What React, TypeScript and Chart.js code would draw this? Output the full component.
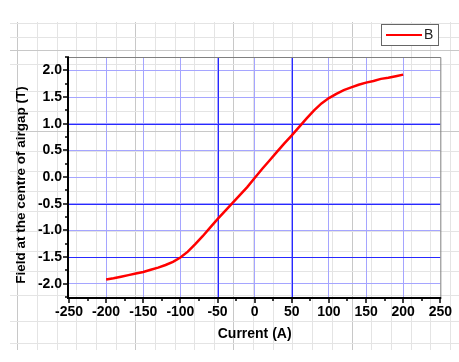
import { useEffect, useRef } from "react";
import { Chart, registerables } from "chart.js";

Chart.register(...registerables);

const currents = [-200, -190, -180, -170, -160, -150, -140, -130, -120, -110, -100, -90, -80, -70, -60, -50, -40, -30, -20, -10, 0, 10, 20, 30, 40, 50, 60, 70, 80, 90, 100, 110, 120, 130, 140, 150, 160, 170, 180, 190, 200];
const fieldB = [-1.92, -1.9, -1.87, -1.84, -1.81, -1.78, -1.74, -1.7, -1.65, -1.59, -1.51, -1.4, -1.26, -1.11, -0.95, -0.79, -0.64, -0.49, -0.34, -0.19, -0.02, 0.15, 0.31, 0.47, 0.63, 0.78, 0.94, 1.1, 1.25, 1.38, 1.48, 1.56, 1.63, 1.68, 1.73, 1.77, 1.8, 1.84, 1.86, 1.89, 1.92];

const xTicks = [-250, -200, -150, -100, -50, 0, 50, 100, 150, 200, 250];
const xMinorTicks = [-225, -175, -125, -75, -25, 25, 75, 125, 175, 225];
const yTicks = [-2, -1.5, -1, -0.5, 0, 0.5, 1, 1.5, 2];
const yMinorTicks = [-2.25, -1.75, -1.25, -0.75, -0.25, 0.25, 0.75, 1.25, 1.75, 2.25];
const xDarkGrid = [-50, 50];
const yDarkGrid = [1, -0.5, -1.5];

const seriesName = "B";
const xTitle = "Current (A)";
const yTitle = "Field at the centre of airgap (T)";

const FONT = "'Liberation Sans', Arial, sans-serif";
const DARK_BLUE = "rgb(40,40,255)";
const LIGHT_BLUE = "rgb(165,165,255)";

const paperV = [17, 37, 57, 76, 96, 116, 135, 155, 175, 194, 214, 233, 253, 273, 292, 312, 332, 352, 371, 391, 411, 430, 450];
const paperVDark = [17, 135, 233, 352];
const paperH = [23, 37, 50, 64, 91, 111, 131, 151, 171, 191, 211, 231, 251, 271, 295, 321, 343];
const paperHDark = [50, 131];

const decoPlugin = {
  id: "deco",
  beforeDraw(chart: any) {
    const ctx = chart.ctx;
    ctx.save();
    ctx.fillStyle = "#ffffff";
    ctx.fillRect(0, 0, chart.width, chart.height);
    ctx.lineWidth = 1;
    for (const x of paperV) {
      ctx.strokeStyle = paperVDark.includes(x) ? "#c8c8c8" : "#e4e4e4";
      ctx.beginPath();
      ctx.moveTo(x + 0.5, 22);
      ctx.lineTo(x + 0.5, 350);
      ctx.stroke();
    }
    for (const y of paperH) {
      ctx.strokeStyle = paperHDark.includes(y) ? "#c8c8c8" : "#e4e4e4";
      ctx.beginPath();
      ctx.moveTo(10, y + 0.5);
      ctx.lineTo(459, y + 0.5);
      ctx.stroke();
    }
    ctx.restore();
  },
  beforeDatasetsDraw(chart: any) {
    // emphasised blue grid lines, drawn over the standard grid
    const ctx = chart.ctx;
    const { left, right, top, bottom } = chart.chartArea;
    const xs = chart.scales.x;
    const ys = chart.scales.y;
    ctx.save();
    ctx.strokeStyle = DARK_BLUE;
    ctx.lineWidth = 1;
    for (const v of xDarkGrid) {
      const p = Math.round(xs.getPixelForValue(v)) + 0.5;
      ctx.beginPath();
      ctx.moveTo(p, top);
      ctx.lineTo(p, bottom);
      ctx.stroke();
    }
    for (const v of yDarkGrid) {
      const p = Math.round(ys.getPixelForValue(v)) + 0.5;
      ctx.beginPath();
      ctx.moveTo(left, p);
      ctx.lineTo(right, p);
      ctx.stroke();
    }
    ctx.restore();
  },
  afterDraw(chart: any) {
    const ctx = chart.ctx;
    const { left, right, top, bottom } = chart.chartArea;
    const xs = chart.scales.x;
    const ys = chart.scales.y;
    ctx.save();
    // top/right frame
    ctx.strokeStyle = "#808080";
    ctx.lineWidth = 1;
    ctx.beginPath();
    ctx.moveTo(left, top + 0.5);
    ctx.lineTo(right + 0.5, top + 0.5);
    ctx.lineTo(right + 0.5, bottom);
    ctx.stroke();
    // axes
    ctx.strokeStyle = "#000000";
    ctx.lineWidth = 2;
    ctx.beginPath();
    ctx.moveTo(left - 1, top);
    ctx.lineTo(left - 1, bottom + 1);
    ctx.lineTo(right + 1, bottom + 1);
    ctx.stroke();
    // ticks
    ctx.lineWidth = 1.5;
    for (const v of yTicks) {
      const p = Math.round(ys.getPixelForValue(v));
      ctx.beginPath();
      ctx.moveTo(left - 6, p);
      ctx.lineTo(left, p);
      ctx.stroke();
    }
    for (const v of yMinorTicks) {
      const p = Math.round(ys.getPixelForValue(v));
      ctx.beginPath();
      ctx.moveTo(left - 4, p);
      ctx.lineTo(left, p);
      ctx.stroke();
    }
    for (const v of xTicks) {
      const p = Math.round(xs.getPixelForValue(v));
      ctx.beginPath();
      ctx.moveTo(p, bottom);
      ctx.lineTo(p, bottom + 6);
      ctx.stroke();
    }
    for (const v of xMinorTicks) {
      const p = Math.round(xs.getPixelForValue(v));
      ctx.beginPath();
      ctx.moveTo(p, bottom);
      ctx.lineTo(p, bottom + 4);
      ctx.stroke();
    }
    // axis titles
    ctx.fillStyle = "#000000";
    ctx.font = `bold 14px ${FONT}`;
    ctx.textAlign = "center";
    ctx.textBaseline = "middle";
    ctx.fillText(xTitle, (left + right) / 2, 334);
    ctx.save();
    ctx.translate(21, 185);
    ctx.rotate(-Math.PI / 2);
    ctx.font = `bold 13.5px ${FONT}`;
    ctx.fillText(yTitle, 0, 0);
    ctx.restore();
    // legend
    ctx.fillStyle = "#ffffff";
    ctx.fillRect(381, 24, 57, 21);
    ctx.strokeStyle = "#666666";
    ctx.lineWidth = 1;
    ctx.strokeRect(381.5, 24.5, 57, 21);
    ctx.strokeStyle = "#ff0000";
    ctx.lineWidth = 2;
    ctx.beginPath();
    ctx.moveTo(386, 35);
    ctx.lineTo(422, 35);
    ctx.stroke();
    ctx.fillStyle = "#222222";
    ctx.font = `14px ${FONT}`;
    ctx.textAlign = "left";
    ctx.fillText(seriesName, 424, 35.5);
    ctx.restore();
  },
};

export default function App() {
  const ref = useRef<HTMLCanvasElement | null>(null);
  useEffect(() => {
    if (!ref.current) return;
    const chart = new Chart(ref.current, {
      type: "line",
      data: {
        datasets: [
          {
            label: seriesName,
            data: currents.map((c, i) => ({ x: c, y: fieldB[i] })),
            borderColor: "#ff0000",
            borderWidth: 2.5,
            pointRadius: 0,
            tension: 0,
            fill: false,
          },
        ],
      },
      options: {
        responsive: false,
        animation: false,
        layout: { padding: { left: 0, right: 16, top: 57, bottom: 0 } },
        plugins: { legend: { display: false }, tooltip: { enabled: false } },
        scales: {
          x: {
            type: "linear",
            min: -250,
            max: 250,
            afterFit: (s: any) => { s.height = 65; },
            afterBuildTicks: (s: any) => { s.ticks = xTicks.map((v) => ({ value: v })); },
            border: { display: false },
            grid: {
              drawTicks: false,
              lineWidth: 1,
              color: (c: any) => {
                const v = c.tick ? c.tick.value : 0;
                if (v === -250 || v === 250) return "rgba(0,0,0,0)";
                return LIGHT_BLUE;
              },
            },
            ticks: {
              padding: 7,
              color: "#000000",
              font: { family: FONT, size: 14, weight: "bold" },
              maxRotation: 0,
              autoSkip: false,
              callback: (v: any) => String(v),
            },
          },
          y: {
            type: "linear",
            min: -2.25,
            max: 2.25,
            afterFit: (s: any) => { s.width = 69; },
            afterBuildTicks: (s: any) => { s.ticks = yTicks.map((v) => ({ value: v })); },
            border: { display: false },
            grid: {
              drawTicks: false,
              lineWidth: 1,
              color: LIGHT_BLUE,
            },
            ticks: {
              padding: 7,
              color: "#000000",
              font: { family: FONT, size: 14, weight: "bold" },
              autoSkip: false,
              callback: (v: any) => Number(v).toFixed(1),
            },
          },
        },
      },
      plugins: [decoPlugin],
    } as any);
    return () => chart.destroy();
  }, []);
  return (
    <div style={{ position: "fixed", left: 0, top: 0, width: 459, height: 362, background: "#fff" }}>
      <canvas ref={ref} width={459} height={362} style={{ display: "block", width: 459, height: 362 }} />
    </div>
  );
}
